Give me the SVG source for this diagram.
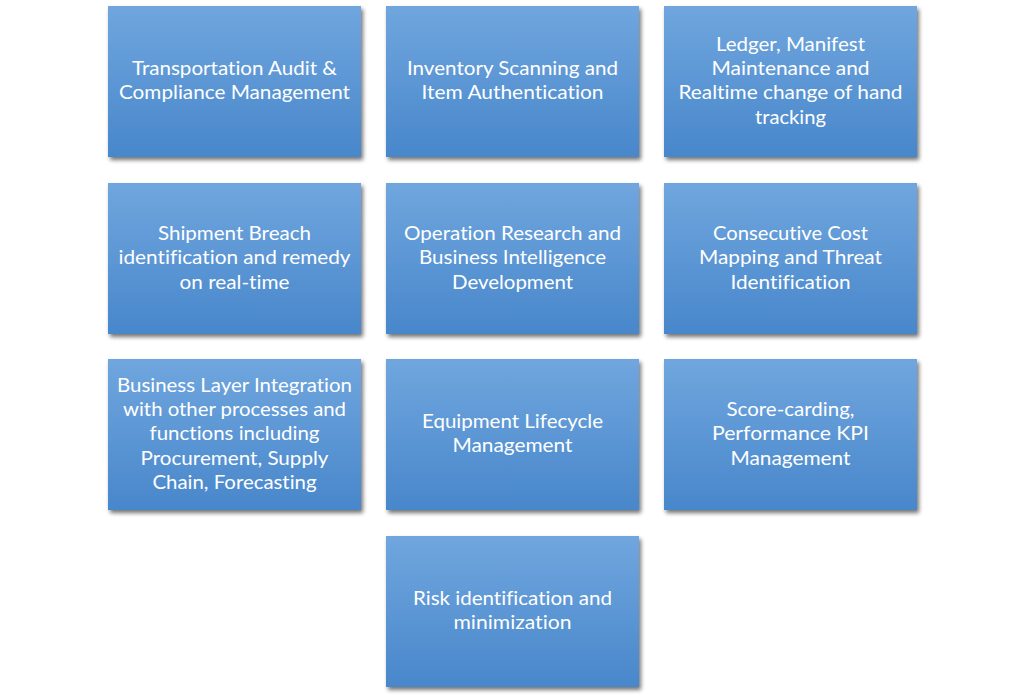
<svg xmlns="http://www.w3.org/2000/svg" width="1024" height="696" viewBox="0 0 1024 696">
<defs>
<linearGradient id="g" x1="0" y1="0" x2="0" y2="1">
<stop offset="0" stop-color="#70a6de"/>
<stop offset="1" stop-color="#4887cb"/>
</linearGradient>
<filter id="sh" x="-10%" y="-10%" width="125%" height="130%">
<feGaussianBlur in="SourceAlpha" stdDeviation="2"/>
<feOffset dx="1.5" dy="3" result="b"/>
<feComponentTransfer in="b" result="c"><feFuncA type="linear" slope="0.55"/></feComponentTransfer>
<feMerge><feMergeNode in="c"/><feMergeNode in="SourceGraphic"/></feMerge>
</filter>
</defs>
<style>
.box{fill:url(#g);filter:url(#sh)}
.t{font-family:Lato,"Open Sans","Liberation Sans",sans-serif;font-size:20px;fill:#ffffff;text-anchor:middle;font-variant-ligatures:none;font-feature-settings:"liga" 0,"clig" 0}
</style>
<rect width="1024" height="696" fill="#ffffff"/>
<g id="connectors"/>
<g id="n1"><rect class="box" x="108" y="6" width="253" height="151"/>
<text class="t"><tspan x="234.5" y="75" textLength="205" lengthAdjust="spacingAndGlyphs">Transportation Audit &amp;</tspan><tspan x="234.5" y="99.4" textLength="231" lengthAdjust="spacingAndGlyphs">Compliance Management</tspan></text></g>
<g id="n2"><rect class="box" x="386" y="6" width="253" height="151"/>
<text class="t"><tspan x="512.5" y="75" textLength="211" lengthAdjust="spacingAndGlyphs">Inventory Scanning and</tspan><tspan x="512.5" y="99.4" textLength="182" lengthAdjust="spacingAndGlyphs">Item Authentication</tspan></text></g>
<g id="n3"><rect class="box" x="664" y="6" width="253" height="151"/>
<text class="t"><tspan x="790.5" y="50.6" textLength="149" lengthAdjust="spacingAndGlyphs">Ledger, Manifest</tspan><tspan x="790.5" y="75" textLength="158" lengthAdjust="spacingAndGlyphs">Maintenance and</tspan><tspan x="790.5" y="99.4" textLength="224" lengthAdjust="spacingAndGlyphs">Realtime change of hand</tspan><tspan x="790.5" y="123.8" textLength="71" lengthAdjust="spacingAndGlyphs">tracking</tspan></text></g>
<g id="n4"><rect class="box" x="108" y="183" width="253" height="151"/>
<text class="t"><tspan x="234.5" y="240" textLength="153" lengthAdjust="spacingAndGlyphs">Shipment Breach</tspan><tspan x="234.5" y="264.4" textLength="232" lengthAdjust="spacingAndGlyphs">identification and remedy</tspan><tspan x="234.5" y="288.8" textLength="110" lengthAdjust="spacingAndGlyphs">on real-time</tspan></text></g>
<g id="n5"><rect class="box" x="386" y="183" width="253" height="151"/>
<text class="t"><tspan x="512.5" y="240" textLength="217" lengthAdjust="spacingAndGlyphs">Operation Research and</tspan><tspan x="512.5" y="264.4" textLength="187" lengthAdjust="spacingAndGlyphs">Business Intelligence</tspan><tspan x="512.5" y="288.8" textLength="121" lengthAdjust="spacingAndGlyphs">Development</tspan></text></g>
<g id="n6"><rect class="box" x="664" y="183" width="253" height="151"/>
<text class="t"><tspan x="790.5" y="240" textLength="155" lengthAdjust="spacingAndGlyphs">Consecutive Cost</tspan><tspan x="790.5" y="264.4" textLength="183" lengthAdjust="spacingAndGlyphs">Mapping and Threat</tspan><tspan x="790.5" y="288.8" textLength="120" lengthAdjust="spacingAndGlyphs">Identification</tspan></text></g>
<g id="n7"><rect class="box" x="108" y="359" width="253" height="151"/>
<text class="t"><tspan x="234.5" y="391.6" textLength="235" lengthAdjust="spacingAndGlyphs">Business Layer Integration</tspan><tspan x="234.5" y="416" textLength="223" lengthAdjust="spacingAndGlyphs">with other processes and</tspan><tspan x="234.5" y="440.4" textLength="170" lengthAdjust="spacingAndGlyphs">functions including</tspan><tspan x="234.5" y="464.8" textLength="188" lengthAdjust="spacingAndGlyphs">Procurement, Supply</tspan><tspan x="234.5" y="489.2" textLength="164" lengthAdjust="spacingAndGlyphs">Chain, Forecasting</tspan></text></g>
<g id="n8"><rect class="box" x="386" y="359" width="253" height="151"/>
<text class="t"><tspan x="512.5" y="428" textLength="181" lengthAdjust="spacingAndGlyphs">Equipment Lifecycle</tspan><tspan x="512.5" y="452.4" textLength="120" lengthAdjust="spacingAndGlyphs">Management</tspan></text></g>
<g id="n9"><rect class="box" x="664" y="359" width="253" height="151"/>
<text class="t"><tspan x="790.5" y="416" textLength="128" lengthAdjust="spacingAndGlyphs">Score-carding,</tspan><tspan x="790.5" y="440.4" textLength="157" lengthAdjust="spacingAndGlyphs">Performance KPI</tspan><tspan x="790.5" y="464.8" textLength="120" lengthAdjust="spacingAndGlyphs">Management</tspan></text></g>
<g id="n10"><rect class="box" x="386" y="536" width="253" height="151"/>
<text class="t"><tspan x="512.5" y="605" textLength="199" lengthAdjust="spacingAndGlyphs">Risk identification and</tspan><tspan x="512.5" y="629.4" textLength="118" lengthAdjust="spacingAndGlyphs">minimization</tspan></text></g>
</svg>
